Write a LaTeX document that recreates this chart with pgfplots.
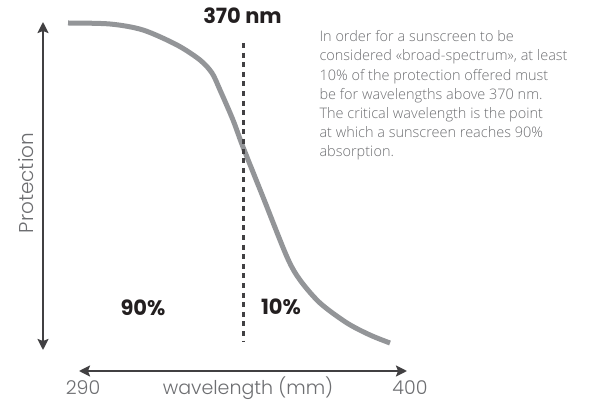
\documentclass[border=0pt]{standalone}
\usepackage{pgfplots}
\pgfplotsset{compat=1.18}
\usepackage{fontspec}
\usetikzlibrary{arrows.meta}
\setmainfont{Poppins}
\newfontfamily\lightfont{Poppins Light}
\IfFontExistsTF{Open Sans Light}{\newfontfamily\parafont{Open Sans Light}}{\newfontfamily\parafont{Open Sans}}
\definecolor{curvegray}{HTML}{939598}
\definecolor{arrowgray}{HTML}{414042}
\definecolor{textgray}{HTML}{6D6E71}
\definecolor{boldblack}{HTML}{231F20}
\begin{document}
\begin{tikzpicture}
\useasboundingbox (0,0) rectangle (605pt,401pt);
\begin{axis}[
  at={(0,0)}, anchor=south west,
  width=605pt, height=401pt,
  scale only axis,
  xmin=0, xmax=605,
  ymin=0, ymax=401,
  y dir=reverse,
  hide axis,
  clip=false,
]
% protection curve (schematic), picture units
\addplot[curvegray, line width=5pt, smooth, tension=0.5, line cap=butt] coordinates {
(68,23) (110,24) (143,30) (177,45) (200,60) (212,73) (220,90) (233,120)
(243,147) (263,197) (287,257) (300,280) (320,303) (347,323) (370,335) (390,343)
};
% 370 nm marker
\addplot[arrowgray, line width=3pt, dash pattern=on 5pt off 4.6pt] coordinates {(243,43) (243,342)};
% axes arrows
\addplot[arrowgray, line width=2.6pt, {Stealth[length=11pt,width=11pt,inset=2pt]}-{Stealth[length=11pt,width=11pt,inset=2pt]}] coordinates {(43,22) (43,350)};
\addplot[arrowgray, line width=2.6pt, {Stealth[length=11pt,width=11pt,inset=2pt]}-{Stealth[length=11pt,width=11pt,inset=2pt]}] coordinates {(79,371) (407,371)};

\node[anchor=base, font=\fontsize{21}{21}\selectfont\bfseries, text=boldblack] at (axis cs:242.5,24) {370 nm};
\node[anchor=base, font=\fontsize{21}{21}\selectfont\bfseries, text=boldblack] at (axis cs:143,315) {90\%};
\node[anchor=base, font=\fontsize{21}{21}\selectfont\bfseries, text=boldblack] at (axis cs:281,314) {10\%};

\node[anchor=base, inner sep=0pt, font=\fontsize{19}{19}\lightfont, text=textgray] at (axis cs:83,394.5) {290};
\node[anchor=base, inner sep=0pt, font=\fontsize{19}{19}\lightfont, text=textgray] at (axis cs:410,394.5) {400};
\node[anchor=base, inner sep=0pt, font=\fontsize{19}{19}\lightfont, text=textgray] at (axis cs:248,394.5) {wavelength (mm)};
\node[anchor=base, rotate=90, font=\fontsize{20}{20}\lightfont, text=textgray] at (axis cs:33,183) {Protection};

\node[anchor=base west, font=\fontsize{14.5}{14.5}\parafont, text=textgray] at (axis cs:316,41.7) {In order for a sunscreen to be};
\node[anchor=base west, font=\fontsize{14.5}{14.5}\parafont, text=textgray] at (axis cs:316,61) {considered «broad-spectrum», at least};
\node[anchor=base west, font=\fontsize{14.5}{14.5}\parafont, text=textgray] at (axis cs:316,80.2) {10\% of the protection offered must};
\node[anchor=base west, font=\fontsize{14.5}{14.5}\parafont, text=textgray] at (axis cs:316,99.4) {be for wavelengths above 370 nm.};
\node[anchor=base west, font=\fontsize{14.5}{14.5}\parafont, text=textgray] at (axis cs:316,118.6) {The critical wavelength is the point};
\node[anchor=base west, font=\fontsize{14.5}{14.5}\parafont, text=textgray] at (axis cs:316,137.8) {at which a sunscreen reaches 90\%};
\node[anchor=base west, font=\fontsize{14.5}{14.5}\parafont, text=textgray] at (axis cs:316,157) {absorption.};
\end{axis}
\end{tikzpicture}
\end{document}
